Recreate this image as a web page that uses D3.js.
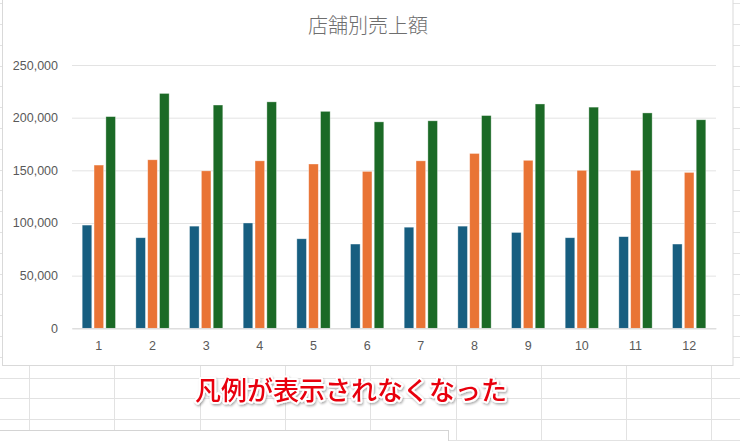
<!DOCTYPE html>
<html>
<head>
<meta charset="utf-8">
<script src="https://cdn.jsdelivr.net/npm/d3@7.9.0/dist/d3.min.js"></script>
<style>
  body { margin: 0; background: #fff; }
  svg { display: block; }
</style>
</head>
<body>
<div id="chart"></div>
<script>
// 店舗別売上額 (月ごと、3店舗)
const months = ['1', '2', '3', '4', '5', '6', '7', '8', '9', '10', '11', '12'];
const seriesNames = ['店舗A', '店舗B', '店舗C'];
const storeA = [98000, 86000, 97000, 100000, 85000, 80000, 96000, 97000, 91000, 86000, 87000, 80000];
const storeB = [155000, 160000, 149500, 159000, 156000, 149000, 159000, 166000, 159500, 150000, 150000, 148000];
const storeC = [201000, 223000, 212000, 215000, 206000, 196000, 197000, 202000, 213000, 210000, 204500, 198000];
const yTicks = [0, 50000, 100000, 150000, 200000, 250000];
const colors = ['#175e80', '#e97435', '#1b6a26'];

const width = 740;
const height = 441;
const plot = { left: 72, right: 716, top: 65, bottom: 328.3 };

const svg = d3.select('#chart')
  .append('svg')
  .attr('width', width)
  .attr('height', height);

// spreadsheet grid behind the chart
const sheet = svg.append('g').attr('stroke', '#e2e2e2').attr('stroke-width', 1);
sheet.selectAll('line.row')
  .data(d3.range(0, 22))
  .join('line')
  .attr('x1', 0).attr('x2', width)
  .attr('y1', d => Math.round(3.2 + d * 20.8) + 0.5)
  .attr('y2', d => Math.round(3.2 + d * 20.8) + 0.5);
sheet.selectAll('line.col')
  .data(d3.range(0, 9))
  .join('line')
  .attr('y1', 0).attr('y2', height)
  .attr('x1', d => Math.round(29 + d * 85.3) + 0.5)
  .attr('x2', d => Math.round(29 + d * 85.3) + 0.5);

// another object peeking in at the bottom
svg.append('rect')
  .attr('x', -5).attr('y', 430.5)
  .attr('width', 453.5).attr('height', 30)
  .attr('fill', '#fff')
  .attr('stroke', '#d4d4d4');

// chart frame
svg.append('rect')
  .attr('x', 2.5).attr('y', -10)
  .attr('width', 730.5).attr('height', 375.5)
  .attr('fill', '#fff')
  .attr('stroke', '#d9d9d9');

const x = d3.scaleBand()
  .domain(months)
  .range([plot.left, plot.right])
  .padding(0);

const xSub = d3.scaleBand()
  .domain(seriesNames)
  .range([0, x.bandwidth()])
  .paddingInner(0.19)
  .paddingOuter(0.86);

const y = d3.scaleLinear()
  .domain([0, 250000])
  .range([plot.bottom, plot.top]);

// gridlines
svg.append('g')
  .attr('transform', `translate(${plot.left},0)`)
  .call(d3.axisLeft(y).tickValues(yTicks).tickFormat('').tickSize(-(plot.right - plot.left)))
  .call(g => g.select('.domain').remove())
  .call(g => g.selectAll('line').attr('stroke', '#e3e3e3').attr('stroke-width', 1));

// y labels
svg.append('g')
  .attr('transform', `translate(${plot.left},0)`)
  .call(d3.axisLeft(y).tickValues(yTicks).tickFormat(d3.format(',')).tickSize(0).tickPadding(14))
  .call(g => g.select('.domain').remove())
  .call(g => g.selectAll('text')
    .attr('fill', '#595959')
    .style('font-family', '"Liberation Sans", Arial, sans-serif')
    .style('font-size', '12.5px'));

// bars
const data = [storeA, storeB, storeC];
const groups = svg.append('g')
  .selectAll('g')
  .data(months)
  .join('g')
  .attr('transform', d => `translate(${x(d)},0)`);

groups.selectAll('rect')
  .data((m, i) => seriesNames.map((s, k) => ({ s, k, v: data[k][i] })))
  .join('rect')
  .attr('x', d => xSub(d.s))
  .attr('width', xSub.bandwidth())
  .attr('y', d => y(d.v))
  .attr('height', d => y(0) - y(d.v))
  .attr('fill', d => colors[d.k])
  .attr('stroke', '#fff')
  .attr('stroke-width', 0.7)
  .attr('stroke-opacity', 0.5);

// x axis
svg.append('g')
  .attr('transform', `translate(0,${plot.bottom})`)
  .call(d3.axisBottom(x).tickSize(0).tickPadding(13))
  .call(g => g.select('.domain').attr('stroke', '#d9d9d9'))
  .call(g => g.selectAll('text')
    .attr('fill', '#595959')
    .style('font-family', '"Liberation Sans", Arial, sans-serif')
    .style('font-size', '12.5px'));

// title
svg.append('text')
  .attr('x', 368)
  .attr('y', 33)
  .attr('text-anchor', 'middle')
  .attr('fill', '#6e6e6e')
  .style('font-family', '"Noto Sans CJK JP", sans-serif')
  .style('font-weight', 300)
  .style('font-size', '20px')
  .text('店舗別売上額');

// annotation
const defs = svg.append('defs');
const f = defs.append('filter').attr('id', 'shadow').attr('x', '-10%').attr('y', '-30%').attr('width', '120%').attr('height', '160%');
f.append('feDropShadow').attr('dx', 1).attr('dy', 1.5).attr('stdDeviation', 1.2).attr('flood-color', '#000').attr('flood-opacity', 0.35);

svg.append('text')
  .attr('x', 351)
  .attr('y', 400)
  .attr('text-anchor', 'middle')
  .attr('fill', '#e8000e')
  .attr('stroke', '#fff')
  .attr('stroke-width', 4)
  .attr('stroke-linejoin', 'round')
  .attr('paint-order', 'stroke')
  .attr('filter', 'url(#shadow)')
  .style('font-family', '"Noto Sans CJK JP", sans-serif')
  .style('font-weight', 500)
  .style('font-size', '26px')
  .text('凡例が表示されなくなった');
</script>
</body>
</html>
